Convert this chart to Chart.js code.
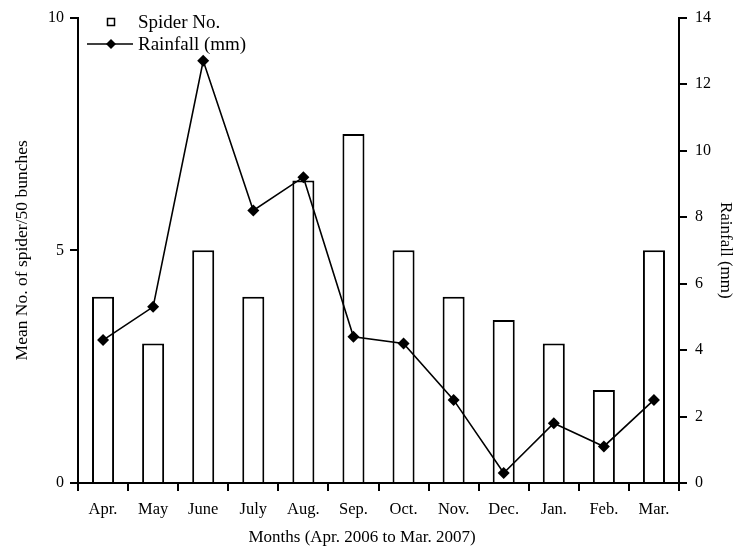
<!DOCTYPE html>
<html>
<head>
<meta charset="utf-8">
<script src="https://cdn.jsdelivr.net/npm/chart.js@4"></script>
<style>
  html, body { margin: 0; padding: 0; background: #fff; }
  #wrap { width: 736px; height: 550px; }
</style>
</head>
<body>
<div id="wrap"><canvas id="chart" width="736" height="550"></canvas></div>
<script>
'use strict';
// ── Data ───────────────────────────────────────────────────────────────────
const MONTHS   = ['Apr.', 'May', 'June', 'July', 'Aug.', 'Sep.', 'Oct.', 'Nov.', 'Dec.', 'Jan.', 'Feb.', 'Mar.'];
const SPIDERS  = [4, 3, 5, 4, 6.5, 7.5, 5, 4, 3.5, 3, 2, 5];
const RAINFALL = [4.3, 5.3, 12.7, 8.2, 9.2, 4.4, 4.2, 2.5, 0.3, 1.8, 1.1, 2.5];
const X_TITLE  = 'Months (Apr. 2006 to Mar. 2007)';

const FONT = "'Liberation Serif', 'Times New Roman', serif";
const INK  = '#000';

Chart.defaults.font.family = FONT;
Chart.defaults.font.size = 16;
Chart.defaults.color = INK;

// ── Legend inside the plot (top-left) + x title slightly left of centre ───
const extras = {
    id: 'extras',
    afterDraw(chart) {
        const ctx = chart.ctx;
        ctx.save();
        ctx.fillStyle = INK;
        ctx.strokeStyle = INK;
        ctx.textBaseline = 'middle';
        ctx.font = `19px ${FONT}`;
        // Spider No. (open square)
        ctx.lineWidth = 1.5;
        ctx.strokeRect(107.5, 18.5, 7, 7);
        ctx.fillText('Spider No.', 138, 23);
        // Rainfall (line + diamond)
        ctx.beginPath();
        ctx.moveTo(87, 44);
        ctx.lineTo(133, 44);
        ctx.stroke();
        ctx.beginPath();
        ctx.moveTo(111, 39); ctx.lineTo(116, 44); ctx.lineTo(111, 49); ctx.lineTo(106, 44);
        ctx.closePath();
        ctx.fill();
        ctx.fillText('Rainfall (mm)', 138, 45);
        // x-axis title
        ctx.font = `17px ${FONT}`;
        ctx.textAlign = 'center';
        ctx.fillText(X_TITLE, 362, 538);
        ctx.restore();
    }
};

new Chart(document.getElementById('chart'), {
    data: {
        labels: MONTHS,
        datasets: [
            {
                type: 'line', label: 'Rainfall (mm)', data: RAINFALL, yAxisID: 'y1',
                borderColor: INK, borderWidth: 1.6, backgroundColor: INK,
                pointStyle: 'rectRot', pointRadius: 6, pointBorderWidth: 0,
                tension: 0, fill: false, order: 0,
            },
            {
                type: 'bar', label: 'Spider No.', data: SPIDERS, yAxisID: 'y',
                backgroundColor: '#fff', borderColor: INK, borderWidth: 2,
                barPercentage: 0.44, categoryPercentage: 1, order: 1,
            },
        ]
    },
    options: {
        responsive: false,
        animation: false,
        layout: { padding: { top: 15, left: 0, right: 0, bottom: 0 } },
        plugins: { legend: { display: false }, tooltip: { enabled: false } },
        scales: {
            x: {
                offset: true,
                grid: { offset: true, drawOnChartArea: false, drawTicks: true, tickLength: 8, tickColor: INK, lineWidth: 2 },
                border: { color: INK, width: 2 },
                ticks: { padding: 9, font: { size: 16.5 }, maxRotation: 0 },
                afterFit(s) { s.height = 67; },
            },
            y: {
                position: 'left', min: 0, max: 10,
                ticks: { stepSize: 5, padding: 6, font: { size: 16 } },
                grid: { drawOnChartArea: false, drawTicks: true, tickLength: 8, tickColor: INK, lineWidth: 2 },
                border: { color: INK, width: 2 },
                title: { display: true, text: 'Mean No. of spider/50 bunches', font: { size: 17.5 }, padding: { top: 12, bottom: 0 } },
                afterFit(s) { s.width = 78; },
            },
            y1: {
                position: 'right', min: 0, max: 14,
                ticks: { stepSize: 2, padding: 8, font: { size: 16 } },
                grid: { drawOnChartArea: false, drawTicks: true, tickLength: 8, tickColor: INK, lineWidth: 2 },
                border: { color: INK, width: 2 },
                title: { display: true, text: 'Rainfall (mm)', font: { size: 17 }, padding: { top: 0, bottom: 4 } },
                afterFit(s) { s.width = 57; },
            },
        }
    },
    plugins: [extras]
});
</script>
</body>
</html>
